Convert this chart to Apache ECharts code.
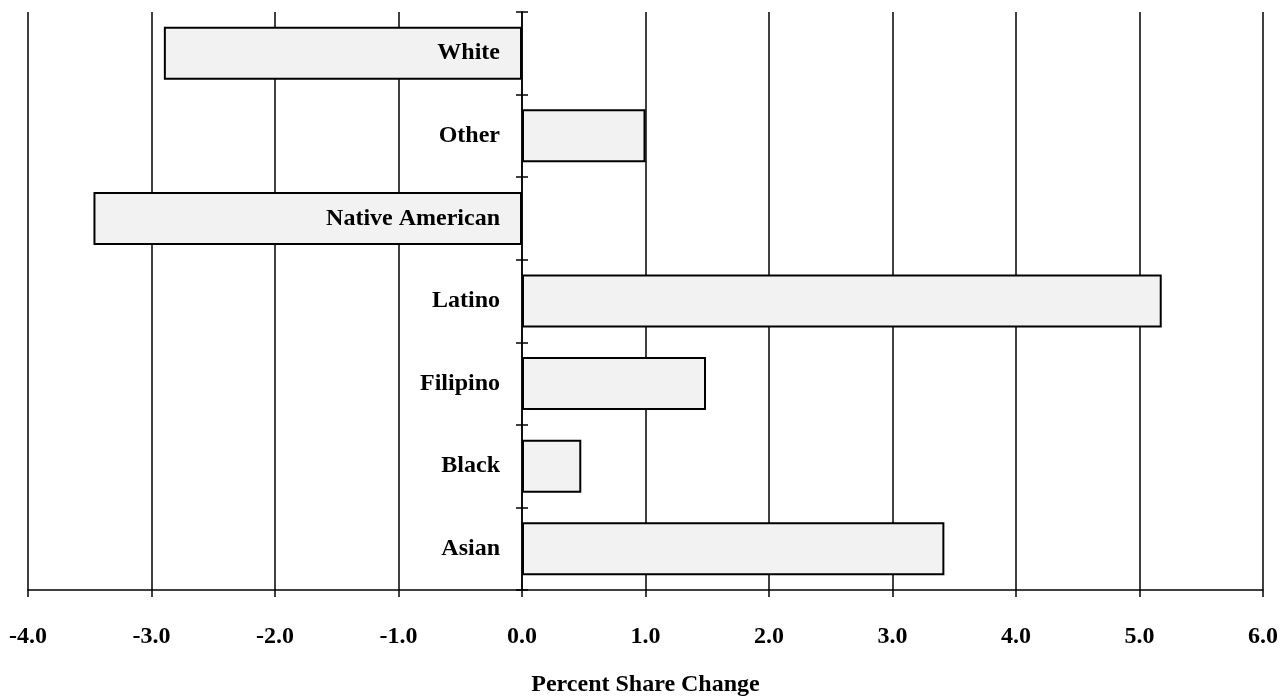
<!DOCTYPE html>
<html>
<head>
<meta charset="utf-8">
<script src="https://cdn.jsdelivr.net/npm/echarts@6/dist/echarts.min.js"></script>
<style>
html,body{margin:0;padding:0;background:#fff;}
#chart{width:1283px;height:697px;}
</style>
</head>
<body>
<div id="chart"></div>
<script>
const categories = ["Asian", "Black", "Filipino", "Latino", "Native American", "Other", "White"];
const shareChange = [3.42, 0.48, 1.49, 5.18, -3.47, 1.0, -2.9];
const xTicks = { min: -4, max: 6, interval: 1 };
const axisTitle = "Percent Share Change";

const font = '"Liberation Serif", "Times New Roman", serif';
const labelStyle = { color: '#000', fontFamily: font, fontWeight: 'bold', fontSize: 24 };

const barData = shareChange.map((v, i) => ({
  value: v,
  label: {
    show: true,
    position: v >= 0 ? 'left' : 'insideRight',
    distance: 22,
    formatter: categories[i],
    ...labelStyle
  }
}));

const chart = echarts.init(document.getElementById('chart'), null, { renderer: 'canvas' });
chart.setOption({
  animation: false,
  backgroundColor: '#ffffff',
  grid: { left: 28, right: 20, top: 12, bottom: 107, containLabel: false, outerBoundsMode: 'none' },
  xAxis: [{
    type: 'value',
    min: xTicks.min, max: xTicks.max, interval: xTicks.interval,
    axisLine: { show: true, lineStyle: { color: '#000', width: 1.5 } },
    axisTick: { show: true, length: 7, lineStyle: { color: '#000', width: 1.5 } },
    axisLabel: { formatter: v => v.toFixed(1), margin: 35, ...labelStyle },
    splitLine: { show: true, lineStyle: { color: '#000', width: 1.5 } },
    name: axisTitle,
    nameLocation: 'middle',
    nameGap: 83,
    nameTextStyle: labelStyle
  }, {
    type: 'value',
    position: 'top',
    min: xTicks.min, max: xTicks.max, interval: xTicks.interval,
    axisLine: { show: false },
    axisTick: { show: false },
    axisLabel: { show: false },
    splitLine: { show: false }
  }],
  yAxis: [{
    type: 'category',
    data: categories,
    z: 5,
    axisLine: { show: true, onZero: true, onZeroAxisIndex: 0, lineStyle: { color: '#000', width: 1.5 } },
    axisTick: { show: true, length: 6, lineStyle: { color: '#000', width: 1.5 } },
    axisLabel: { show: false },
    splitLine: { show: false }
  }, {
    type: 'category',
    data: categories,
    position: 'right',
    z: 5,
    axisLine: { show: false, onZero: true, onZeroAxisIndex: 1 },
    axisTick: { show: true, inside: false, length: 6, lineStyle: { color: '#000', width: 1.5 } },
    axisLabel: { show: false },
    splitLine: { show: false }
  }],
  series: [{
    type: 'bar',
    xAxisIndex: 0,
    yAxisIndex: 0,
    data: barData,
    barWidth: 53,
    z: 3,
    itemStyle: { color: '#f2f2f2', borderColor: '#000', borderWidth: 2 }
  }]
});
</script>
</body>
</html>
